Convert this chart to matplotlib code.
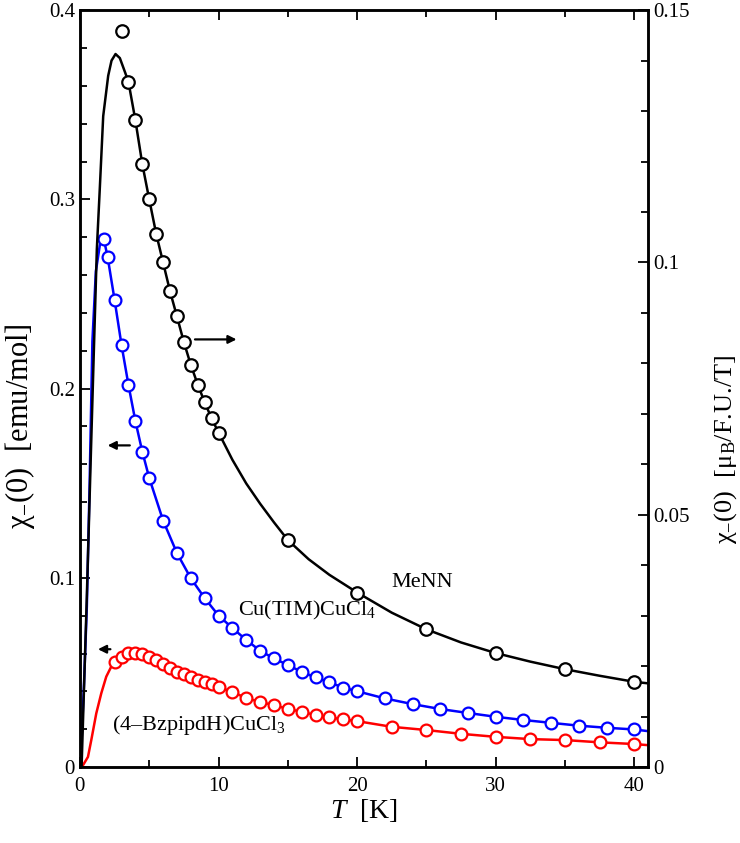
import numpy as np
import matplotlib
matplotlib.use('Agg')
import matplotlib.pyplot as plt

plt.rcParams['font.family'] = ['Liberation Serif', 'DejaVu Serif']
plt.rcParams['mathtext.fontset'] = 'custom'
plt.rcParams['mathtext.rm'] = 'Liberation Serif'
plt.rcParams['mathtext.it'] = 'Liberation Serif:italic'

#%% data
# MeNN, right axis [muB/F.U./T]
menn_T = [3, 3.5, 4, 4.5, 5, 5.5, 6, 6.5, 7, 7.5, 8, 8.5, 9, 9.5, 10,
          15, 20, 25, 30, 35, 40]
menn_chi = [0.1459, 0.1358, 0.1282, 0.1195, 0.1125, 0.1057, 0.1000, 0.0943,
            0.0893, 0.0842, 0.0797, 0.0758, 0.0723, 0.0691, 0.0663,
            0.0450, 0.0346, 0.0273, 0.0226, 0.0194, 0.0169]
# MeNN calculated curve
menn_fit_T = [0.12, 0.5, 0.8, 1.0, 1.22, 1.44, 1.68, 2.04, 2.28, 2.57, 2.88,
              3.24, 3.5, 4, 4.5, 5, 5.5, 6, 6.5, 7, 7.5, 8, 8.5, 9, 9.5, 10,
              11, 12, 13, 14, 15, 16.5, 18, 20, 22.5, 25, 27.5, 30, 32.5,
              35, 37.5, 40, 41]
menn_fit = [0.0, 0.034, 0.063, 0.082, 0.1026, 0.1150, 0.1290, 0.1370, 0.1400,
            0.1413, 0.1405, 0.1378, 0.1358, 0.1282, 0.1195, 0.1125, 0.1057,
            0.1000, 0.0943, 0.0893, 0.0842, 0.0797, 0.0758, 0.0723, 0.0691,
            0.0663, 0.0609, 0.0562, 0.0522, 0.0485, 0.0450, 0.0412, 0.0381,
            0.0346, 0.0306, 0.0273, 0.0247, 0.0226, 0.0209, 0.0194, 0.0181,
            0.0169, 0.0166]

# Cu(TIM)CuCl4, left axis [emu/mol]
tim_T = [1.73, 2, 2.5, 3, 3.5, 4, 4.5, 5, 6, 7, 8, 9, 10, 11, 12, 13, 14,
         15, 16, 17, 18, 19, 20, 22, 24, 26, 28, 30, 32, 34, 36, 38, 40]
tim_chi = [0.2788, 0.2695, 0.2469, 0.2231, 0.2020, 0.1829, 0.1667, 0.1528,
           0.1303, 0.1131, 0.0998, 0.0893, 0.0801, 0.0735, 0.0672, 0.0615,
           0.0574, 0.0540, 0.0503, 0.0474, 0.0448, 0.0420, 0.0401, 0.0363,
           0.0333, 0.0307, 0.0286, 0.0266, 0.0249, 0.0234, 0.0219, 0.0208,
           0.0199]
tim_low_T = [0.04, 0.3, 0.5, 0.7, 0.9, 1.15, 1.44]
tim_low = [0.0, 0.045, 0.085, 0.150, 0.225, 0.262, 0.276]
tim_end_T, tim_end = 41, 0.0190

# (4-BzpipdH)CuCl3, left axis [emu/mol]
bz_T = [2.5, 3, 3.5, 4, 4.5, 5, 5.5, 6, 6.5, 7, 7.5, 8, 8.5, 9, 9.5, 10,
        11, 12, 13, 14, 15, 16, 17, 18, 19, 20, 22.5, 25, 27.5, 30, 32.5,
        35, 37.5, 40]
bz_chi = [0.0554, 0.0580, 0.0602, 0.0605, 0.0598, 0.0584, 0.0566, 0.0545,
          0.0522, 0.0504, 0.0492, 0.0474, 0.0460, 0.0450, 0.0437, 0.0423,
          0.0397, 0.0365, 0.0344, 0.0328, 0.0307, 0.0293, 0.0275, 0.0263,
          0.0252, 0.0243, 0.0213, 0.0196, 0.0176, 0.0160, 0.0148, 0.0143,
          0.0131, 0.0122]
bz_low_T = [0.0, 0.22, 0.58, 0.82, 1.18, 1.54, 1.9, 2.26]
bz_low = [0.0, 0.001, 0.0054, 0.0143, 0.0284, 0.0390, 0.0478, 0.0531]
bz_end_T, bz_end = 41, 0.0116

#%% figure
fig = plt.figure(figsize=(7.4, 8.43), dpi=100)
ax = fig.add_axes([0.108, 0.090, 0.768, 0.898])
ax2 = ax.twinx()

# blue and red: lines through the points, with low-T part
ax.plot(tim_low_T + tim_T + [tim_end_T], tim_low + tim_chi + [tim_end],
        color='blue', lw=1.8, zorder=2)
ax.plot(tim_T, tim_chi, 'o', mfc='white', mec='blue', mew=1.6, ms=8.5, zorder=3)
ax.plot(bz_low_T + bz_T + [bz_end_T], bz_low + bz_chi + [bz_end],
        color='red', lw=1.8, zorder=2)
ax.plot(bz_T, bz_chi, 'o', mfc='white', mec='red', mew=1.6, ms=8.5, zorder=3)

ax2.plot(menn_fit_T, menn_fit, color='black', lw=1.8, zorder=2)
ax2.plot(menn_T, menn_chi, 'o', mfc='white', mec='black', mew=1.6, ms=9, zorder=3)

ax.set_xlim(0, 41)
ax.set_ylim(0, 0.4)
ax2.set_ylim(0, 0.15)

ax.set_xticks([0, 10, 20, 30, 40])
ax.set_xticks(np.arange(5, 41, 10), minor=True)
ax.set_yticks([0, 0.1, 0.2, 0.3, 0.4])
ax.set_yticklabels(['0', '0.1', '0.2', '0.3', '0.4'])
ax.set_yticks(np.arange(0, 0.401, 0.02), minor=True)
ax2.set_yticks([0, 0.05, 0.1, 0.15])
ax2.set_yticklabels(['0', '0.05', '0.1', '0.15'])
ax2.set_yticks(np.arange(0, 0.151, 0.01), minor=True)

ax.tick_params(which='both', direction='in', top=True, right=False,
               labelsize=15, width=1.3)
ax.tick_params(axis='x', pad=7)
ax.tick_params(which='major', length=7)
ax.tick_params(which='minor', length=5)
ax2.tick_params(which='both', direction='in', labelsize=15, width=1.3)
ax2.tick_params(which='major', length=7)
ax2.tick_params(which='minor', length=5)
for a in (ax, ax2):
    for s in a.spines.values():
        s.set_linewidth(1.8)

ax.set_xlabel(r'$T$  [K]', fontsize=20, labelpad=1)
ax.set_ylabel('χ$_{-}$(0)  [emu/mol]', fontsize=22, labelpad=5)
ax2.set_ylabel('χ$_{-}$(0)  [μ$_\\mathrm{B}$/F.U./T]', fontsize=19, labelpad=10)
ax.yaxis.set_label_coords(-0.075, 0.45)
ax2.yaxis.set_label_coords(1.112, 0.42)

# arrows pointing to the axes
arr = dict(arrowstyle='-|>', color='black', lw=1.6, mutation_scale=12)
ax.annotate('', xy=(11.5, 0.226), xytext=(8.1, 0.226), arrowprops=arr)
ax.annotate('', xy=(1.8, 0.170), xytext=(3.8, 0.170), arrowprops=arr)
ax.annotate('', xy=(1.1, 0.0623), xytext=(2.4, 0.0623), arrowprops=arr)

ax.text(24.7, 0.0975, 'MeNN', fontsize=16, ha='center', va='center')
ax.text(11.4, 0.083, 'Cu(TIM)CuCl$_4$', fontsize=16, ha='left', va='center')
ax.text(2.3, 0.0225, '(4–BzpipdH)CuCl$_3$', fontsize=16, ha='left', va='center')

fig.savefig('out.png', dpi=100)
